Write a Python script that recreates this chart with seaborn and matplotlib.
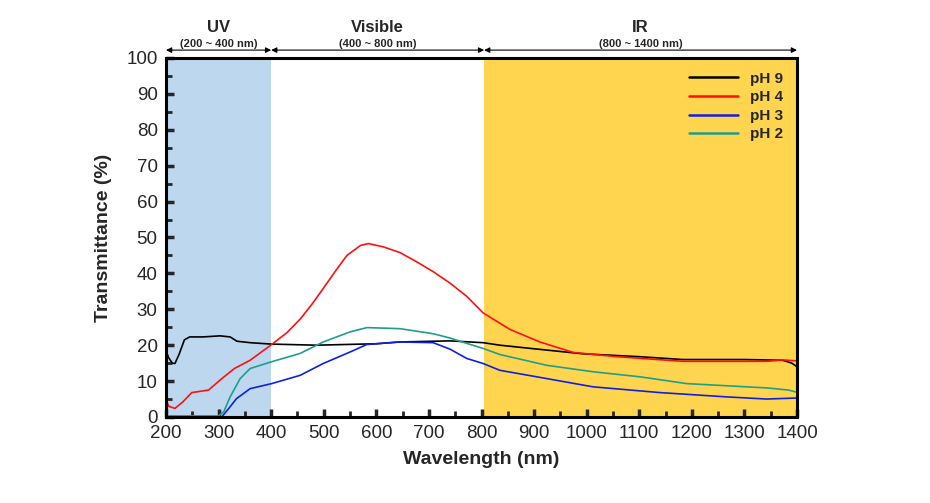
import matplotlib
matplotlib.use("Agg")
import matplotlib.pyplot as plt
from matplotlib.ticker import MultipleLocator
import matplotlib.transforms as mtransforms
import seaborn as sns
import pandas as pd

# wavelength (nm) / transmittance (%)
wl_ph9 = [200, 205, 212, 217, 225, 235, 245, 270, 303, 322, 335, 360, 401, 486,
          600, 645, 740, 803, 835, 900, 993, 1100, 1183, 1300, 1373, 1390, 1402]
t_ph9 = [18.5, 16.5, 15.0, 14.9, 17.5, 21.5, 22.3, 22.3, 22.6, 22.3, 21.1, 20.7,
         20.3, 20.0, 20.4, 20.9, 21.2, 20.7, 20.0, 19.0, 17.6, 16.8, 16.0, 16.0,
         15.8, 15.0, 13.8]

wl_ph4 = [200, 205, 217, 232, 249, 281, 303, 330, 360, 401, 430, 456, 478, 499,
          522, 544, 570, 585, 613, 645, 677, 708, 740, 772, 803, 854, 911, 974,
          1057, 1183, 1342, 1373, 1402]
t_ph4 = [5.0, 3.0, 2.4, 4.2, 6.8, 7.5, 10.3, 13.5, 15.8, 20.2, 23.5, 27.4, 31.5,
         35.8, 40.6, 45.0, 47.8, 48.3, 47.4, 45.8, 43.2, 40.5, 37.3, 33.6, 29.0,
         24.4, 20.9, 18.0, 16.8, 15.5, 15.5, 15.9, 15.6]

wl_ph3 = [306, 320, 334, 360, 401, 455, 499, 550, 582, 645, 708, 740, 772, 803,
          835, 924, 1012, 1139, 1266, 1342, 1402]
t_ph3 = [0.0, 2.5, 5.1, 7.9, 9.3, 11.6, 14.9, 18.1, 20.2, 20.9, 20.7, 18.9, 16.3,
         14.9, 13.0, 10.7, 8.4, 6.8, 5.6, 5.0, 5.3]

wl_ph2 = [200, 300, 310, 322, 341, 360, 401, 455, 499, 550, 582, 645, 708, 740,
          772, 803, 835, 924, 1012, 1101, 1190, 1342, 1384, 1402]
t_ph2 = [0.3, 0.3, 1.5, 5.6, 10.7, 13.5, 15.4, 17.7, 20.9, 23.7, 24.9, 24.6, 23.2,
         22.0, 20.5, 19.1, 17.4, 14.4, 12.6, 11.2, 9.3, 8.1, 7.5, 6.8]

samples = ["pH 9", "pH 4", "pH 3", "pH 2"]
colors = ["#000000", "#FF1010", "#1020E0", "#1E9E8C"]

regions = ["UV", "Visible", "IR"]
region_ranges = ["(200 ~ 400 nm)", "(400 ~ 800 nm)", "(800 ~ 1400 nm)"]
region_edges = [(200, 400), (400, 805), (805, 1400)]

frames = []
for name, wl, t in zip(samples, [wl_ph9, wl_ph4, wl_ph3, wl_ph2],
                       [t_ph9, t_ph4, t_ph3, t_ph2]):
    frames.append(pd.DataFrame({"Wavelength": wl, "T": t, "sample": name}))
df = pd.concat(frames, ignore_index=True)

sns.set_style("ticks")
plt.rcParams["font.family"] = ["Liberation Sans", "DejaVu Sans"]

fig = plt.figure(figsize=(9.3, 5.03), dpi=100)
ax = fig.add_axes([0.1785, 0.171, 0.6785, 0.7137])

# spectral bands
ax.axvspan(200, 400, color="#BDD7EE", lw=0, zorder=0)
ax.axvspan(805, 1400, color="#FFD54F", lw=0, zorder=0)

sns.lineplot(data=df, x="Wavelength", y="T", hue="sample", hue_order=samples,
             palette=colors, estimator=None, sort=False, lw=1.2, ax=ax)

ax.set_xlim(200, 1400)
ax.set_ylim(0, 100)
ax.xaxis.set_major_locator(MultipleLocator(100))
ax.xaxis.set_minor_locator(MultipleLocator(50))
ax.yaxis.set_major_locator(MultipleLocator(10))
ax.yaxis.set_minor_locator(MultipleLocator(5))
ax.tick_params(which="major", direction="in", length=6, width=2.5,
               labelsize=13.5, pad=6)
ax.tick_params(which="minor", direction="in", length=4, width=2)
for s in ax.spines.values():
    s.set_linewidth(2.2)
    s.set_color("black")

ax.set_xlabel("Wavelength (nm)", fontsize=14, fontweight="bold", labelpad=6)
ax.set_ylabel("Transmittance (%)", fontsize=14, fontweight="bold", labelpad=10)

leg = ax.legend(loc="upper right", frameon=False, handlelength=3.2,
                fontsize=11, labelspacing=0.3, borderaxespad=0.5)
for txt in leg.get_texts():
    txt.set_fontweight("bold")
for line in leg.get_lines():
    line.set_linewidth(1.8)

# region headers with double arrows
trans = mtransforms.blended_transform_factory(ax.transData, ax.transAxes)
for name, rng, (a, b) in zip(regions, region_ranges, region_edges):
    mid = (a + b) / 2
    ax.text(mid, 1.085, name, transform=trans, ha="center", va="center",
            fontsize=12, fontweight="bold")
    ax.text(mid, 1.038, rng, transform=trans, ha="center", va="center",
            fontsize=8, fontweight="bold")
    ax.annotate("", xy=(a, 1.022), xytext=(b, 1.022), xycoords=trans,
                textcoords=trans, annotation_clip=False,
                arrowprops=dict(arrowstyle="<|-|>", color="black", lw=0.8,
                                mutation_scale=8, shrinkA=0, shrinkB=0))

fig.savefig("out.png", dpi=100, facecolor="white")
plt.close(fig)
